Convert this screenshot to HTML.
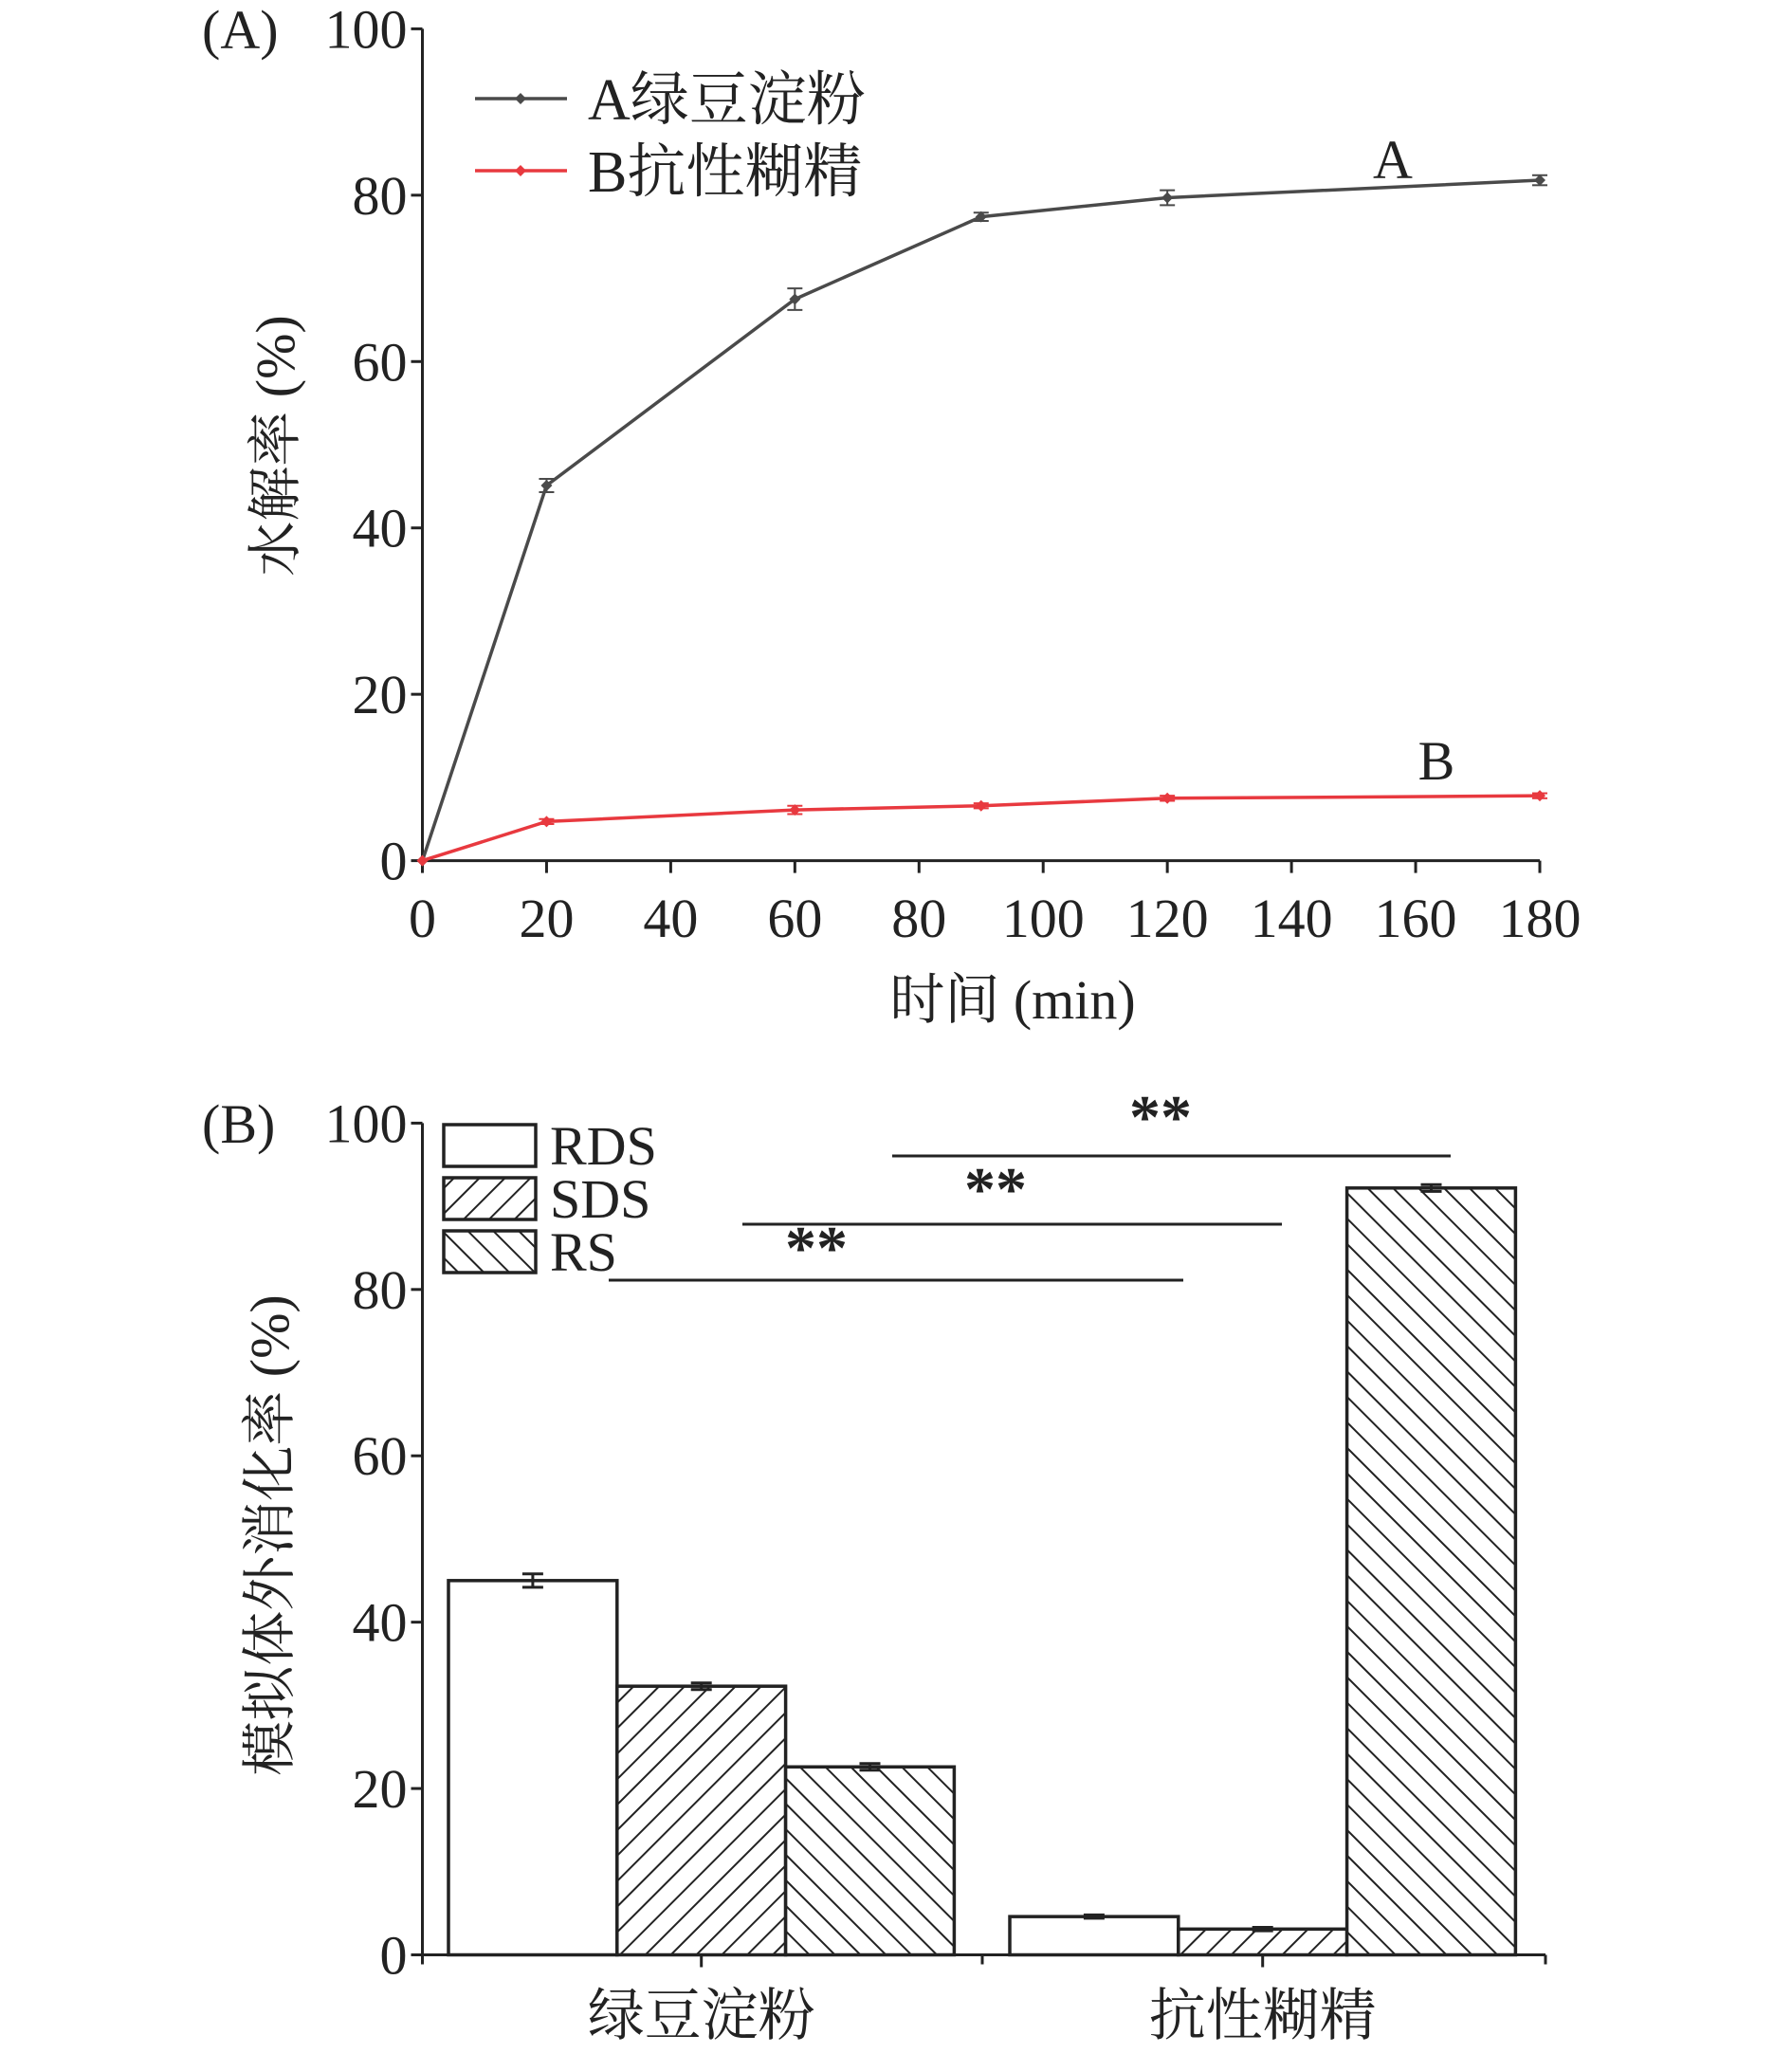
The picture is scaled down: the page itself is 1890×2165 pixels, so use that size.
<!DOCTYPE html>
<html><head><meta charset="utf-8"><style>
html,body{margin:0;padding:0;background:#fff;}
svg{display:block;font-family:"Liberation Serif","Noto Serif CJK SC",serif;}
</style></head><body>
<svg id="c" width="1890" height="2165" viewBox="0 0 1890 2165">
<defs>
<pattern id="hatchF" patternUnits="userSpaceOnUse" width="19" height="19" patternTransform="rotate(45)">
<line x1="0" y1="0" x2="0" y2="19" stroke="#222" stroke-width="4"/></pattern>
<pattern id="hatchB" patternUnits="userSpaceOnUse" width="19" height="19" patternTransform="rotate(-45)">
<line x1="0" y1="0" x2="0" y2="19" stroke="#222" stroke-width="4"/></pattern>
</defs>
<g id="pa"></g>
<g id="pb"></g>
</svg>
<script>
const timesA = [0,20,60,90,120,180];
const seriesA = [0,45.1,67.5,77.4,79.7,81.8];
const errA = [0,0.8,1.3,0.5,0.9,0.6];
const seriesB = [0,4.7,6.1,6.6,7.5,7.8];
const errB = [0,0.3,0.5,0.3,0.3,0.3];
const xTicksA = [0,20,40,60,80,100,120,140,160,180];
const yTicks = [0,20,40,60,80,100];
const categoriesB = ['绿豆淀粉','抗性糊精'];
const rdsVals = [45.0,4.6];
const sdsVals = [32.3,3.1];
const rsVals = [22.6,92.2];
const rdsErr=[0.8,0.2], sdsErr=[0.4,0.2], rsErr=[0.4,0.4];

const NS='http://www.w3.org/2000/svg';
function mk(parent,tag,attrs,text){const e=document.createElementNS(NS,tag);for(const k in attrs)e.setAttribute(k,attrs[k]);if(text!==undefined)e.textContent=text;parent.appendChild(e);return e;}

// Panel A
const pa=document.getElementById('pa');
const ax0=445.5, ax1=1624, ay0=907.6, ay1=30.4;
const xA=v=>ax0+(v/180)*(ax1-ax0);
const yA=v=>ay0-(v/100)*(ay0-ay1);
let e;
e=mk(pa,'line',{x1:ax0,y1:ay0,x2:ax0,y2:ay1,stroke:'#222','stroke-width':3});

e=mk(pa,'line',{x1:ax0,y1:ay0,x2:ax1,y2:ay0,stroke:'#222','stroke-width':3});

yTicks.forEach(t=>{
 mk(pa,'line',{x1:ax0-12,y1:yA(t),x2:ax0,y2:yA(t),stroke:'#222','stroke-width':3});
 e=mk(pa,'text',{x:ax0-16,y:yA(t)+20,'font-size':58,'text-anchor':'end',fill:'#222'},String(t));
 
});
xTicksA.forEach(t=>{
 mk(pa,'line',{x1:xA(t),y1:ay0,x2:xA(t),y2:ay0+13,stroke:'#222','stroke-width':3});
 e=mk(pa,'text',{x:xA(t),y:988,'font-size':58,'text-anchor':'middle',fill:'#222'},String(t));
 
});
e=mk(pa,'text',{x:213,y:51,'font-size':58,fill:'#222'},'(A)');

e=mk(pa,'text',{x:0,y:0,'font-size':58,'text-anchor':'middle',fill:'#222',transform:'translate(310,470) rotate(-90)'},'水解率 (%)');

e=mk(pa,'text',{x:1068,y:1074,'font-size':58,'text-anchor':'middle',fill:'#222'},'时间 (min)');

function drawSeries(vals,errs,color,name){
 const g=mk(pa,'g',{});
 
 mk(g,'polyline',{points:timesA.map((t,i)=>xA(t)+','+yA(vals[i])).join(' '),fill:'none',stroke:color,'stroke-width':3.5});
 timesA.forEach((t,i)=>{
  const x=xA(t),y=yA(vals[i]);
  if(errs[i]>0){const y1=yA(vals[i]+errs[i]),y2=yA(vals[i]-errs[i]);
   mk(g,'line',{x1:x,y1:y1,x2:x,y2:y2,stroke:color,'stroke-width':2});
   mk(g,'line',{x1:x-8,y1:y1,x2:x+8,y2:y1,stroke:color,'stroke-width':2});
   mk(g,'line',{x1:x-8,y1:y2,x2:x+8,y2:y2,stroke:color,'stroke-width':2});}
  const p=mk(g,'path',{d:`M${x-6},${y} L${x},${y-6} L${x+6},${y} L${x},${y+6}Z`,fill:color});
  
 });
}
drawSeries(seriesA,errA,'#4a4a4a','series-a-line');
drawSeries(seriesB,errB,'#e8393f','series-b-line');
e=mk(pa,'text',{x:1469,y:188,'font-size':58,'text-anchor':'middle',fill:'#222'},'A');

e=mk(pa,'text',{x:1515,y:822,'font-size':58,'text-anchor':'middle',fill:'#222'},'B');

[['#4a4a4a','A绿豆淀粉',104],['#e8393f','B抗性糊精',180]].forEach(([c,l,y])=>{
 const g=mk(pa,'g',{});
 
 mk(g,'line',{x1:501,y1:y,x2:598,y2:y,stroke:c,'stroke-width':3.5});
 mk(g,'path',{d:`M543,${y} L549,${y-6} L555,${y} L549,${y+6}Z`,fill:c});
 mk(g,'text',{x:620,y:y+22,'font-size':62,fill:'#222'},l);
});

// Panel B
const pb=document.getElementById('pb');
const bx0=445.5,bx1=1630,by0=2061.5,by1=1184.4;
const yB=v=>by0-(v/100)*(by0-by1);
const bw=177.8;
const groupStart=[473,1065];
e=mk(pb,'line',{x1:bx0,y1:by0,x2:bx0,y2:by1,stroke:'#222','stroke-width':3});

e=mk(pb,'line',{x1:bx0,y1:by0,x2:bx1,y2:by0,stroke:'#222','stroke-width':3});

yTicks.forEach(t=>{
 mk(pb,'line',{x1:bx0-12,y1:yB(t),x2:bx0,y2:yB(t),stroke:'#222','stroke-width':3});
 e=mk(pb,'text',{x:bx0-16,y:yB(t)+20,'font-size':58,'text-anchor':'end',fill:'#222'},String(t));
 
});
[bx0,1036,bx1].forEach(x=>mk(pb,'line',{x1:x,y1:by0,x2:x,y2:by0+10,stroke:'#222','stroke-width':3}));
const series=[[rdsVals,rdsErr,'#fff','rds'],[sdsVals,sdsErr,'url(#hatchF)','sds'],[rsVals,rsErr,'url(#hatchB)','rs']];
categoriesB.forEach((cat,gi)=>{
 const cx=groupStart[gi]+bw*1.5;
 mk(pb,'line',{x1:cx,y1:by0,x2:cx,y2:by0+13,stroke:'#222','stroke-width':3});
 e=mk(pb,'text',{x:cx,y:2146,'font-size':60,'text-anchor':'middle',fill:'#222'},cat);
 
 series.forEach(([vals,errs,fill,nm],si)=>{
  const x=groupStart[gi]+si*bw,y=yB(vals[gi]);
  if(fill!=='#fff') mk(pb,'rect',{x:x,y:y,width:bw,height:by0-y,fill:'#fff'});
  const r=mk(pb,'rect',{x:x,y:y,width:bw,height:by0-y,fill:fill,stroke:'#222','stroke-width':3.5});
  
  const cx2=x+bw/2,e1=yB(vals[gi]+errs[gi]),e2=yB(vals[gi]-errs[gi]);
  mk(pb,'line',{x1:cx2,y1:e1,x2:cx2,y2:e2,stroke:'#222','stroke-width':3});
  mk(pb,'line',{x1:cx2-11,y1:e1,x2:cx2+11,y2:e1,stroke:'#222','stroke-width':3});
  mk(pb,'line',{x1:cx2-11,y1:e2,x2:cx2+11,y2:e2,stroke:'#222','stroke-width':3});
 });
});
e=mk(pb,'text',{x:213,y:1205,'font-size':58,fill:'#222'},'(B)');

e=mk(pb,'text',{x:0,y:0,'font-size':58,'text-anchor':'middle',fill:'#222',transform:'translate(304,1619) rotate(-90)'},'模拟体外消化率 (%)');

[['#fff','RDS',1186],['url(#hatchF)','SDS',1242],['url(#hatchB)','RS',1298]].forEach(([f,l,y])=>{
 const g=mk(pb,'g',{});
 
 mk(g,'rect',{x:468,y:y,width:97,height:44,fill:'#fff'});
 mk(g,'rect',{x:468,y:y,width:97,height:44,fill:f,stroke:'#222','stroke-width':3.5});
 mk(g,'text',{x:580,y:y+42,'font-size':58,fill:'#222'},l);
});
[[642,1248,1350,861,1338],[783,1352,1291,1050,1276],[941,1530,1219,1224,1200]].forEach(([a,b,y,sx,sy])=>{
 const g=mk(pb,'g',{});
 
 mk(g,'line',{x1:a,y1:y,x2:b,y2:y,stroke:'#222','stroke-width':3});
 mk(g,'text',{x:sx,y:sy,'font-size':66,'font-weight':'bold','text-anchor':'middle',fill:'#222'},'**');
});
</script>
</body></html>
